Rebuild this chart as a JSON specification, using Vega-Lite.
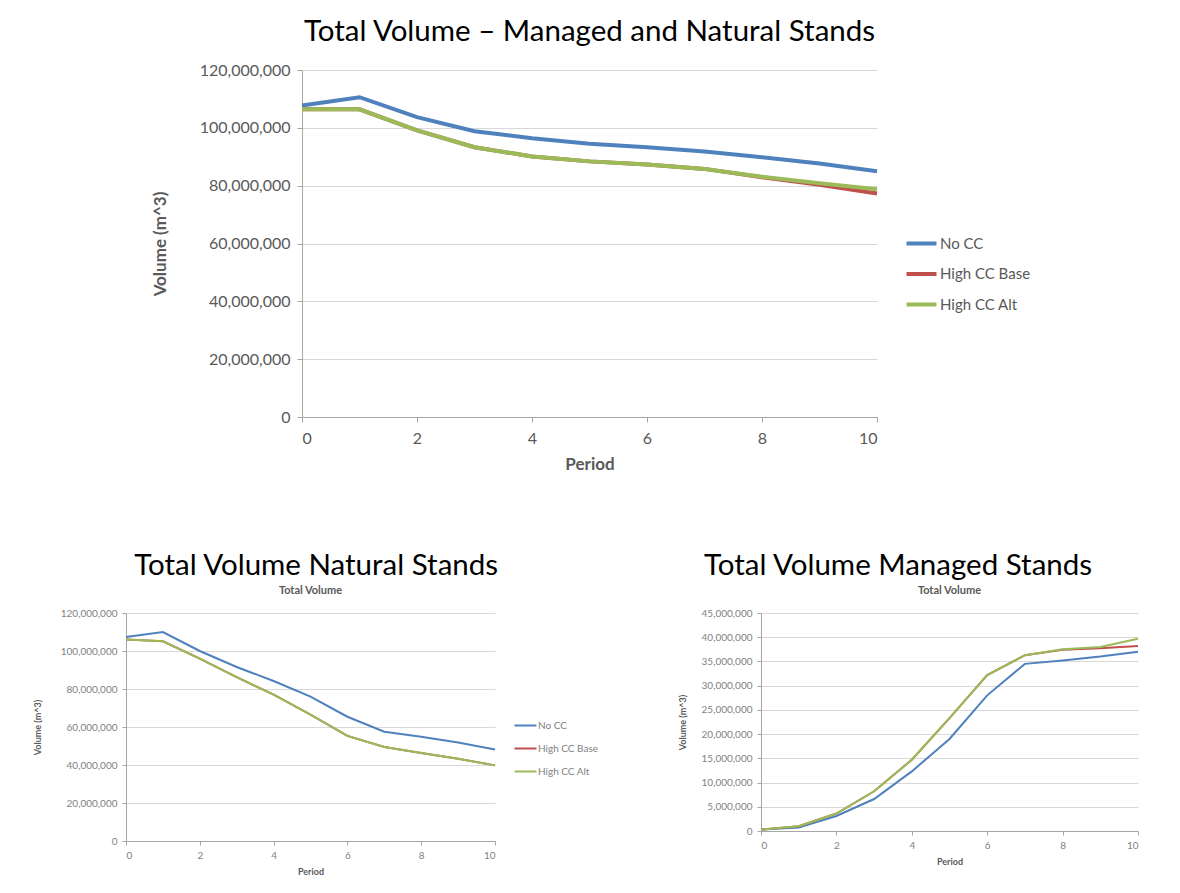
{
  "$schema": "https://vega.github.io/schema/vega-lite/v6.json",
  "background": "white",
  "padding": {"left": 33, "top": 16, "right": 0, "bottom": 0},
  "spacing": 78,
  "config": {
    "font": "Lato",
    "view": {"stroke": null},
    "axis": {"labelColor": "#595959", "titleColor": "#595959", "domainColor": "#a6a6a6", "tickColor": "#a6a6a6", "gridColor": "#d9d9d9", "labelFont": "Lato", "titleFont": "Lato"},
    "title": {"font": "Lato", "fontWeight": "normal", "color": "black"},
    "legend": {"labelFont": "Lato", "labelColor": "#595959"}
  },
  "resolve": {"scale": {"color": "independent"}, "legend": {"color": "independent"}},
  "datasets": {
    "total": [
      {"period": 0, "scenario": "No CC", "volume": 107700000},
      {"period": 1, "scenario": "No CC", "volume": 110600000},
      {"period": 2, "scenario": "No CC", "volume": 103700000},
      {"period": 3, "scenario": "No CC", "volume": 98800000},
      {"period": 4, "scenario": "No CC", "volume": 96400000},
      {"period": 5, "scenario": "No CC", "volume": 94500000},
      {"period": 6, "scenario": "No CC", "volume": 93300000},
      {"period": 7, "scenario": "No CC", "volume": 91800000},
      {"period": 8, "scenario": "No CC", "volume": 89800000},
      {"period": 9, "scenario": "No CC", "volume": 87700000},
      {"period": 10, "scenario": "No CC", "volume": 85000000},
      {"period": 0, "scenario": "High CC Base", "volume": 106400000},
      {"period": 1, "scenario": "High CC Base", "volume": 106400000},
      {"period": 2, "scenario": "High CC Base", "volume": 99100000},
      {"period": 3, "scenario": "High CC Base", "volume": 93300000},
      {"period": 4, "scenario": "High CC Base", "volume": 90100000},
      {"period": 5, "scenario": "High CC Base", "volume": 88400000},
      {"period": 6, "scenario": "High CC Base", "volume": 87300000},
      {"period": 7, "scenario": "High CC Base", "volume": 85800000},
      {"period": 8, "scenario": "High CC Base", "volume": 82900000},
      {"period": 9, "scenario": "High CC Base", "volume": 80300000},
      {"period": 10, "scenario": "High CC Base", "volume": 77300000},
      {"period": 0, "scenario": "High CC Alt", "volume": 106400000},
      {"period": 1, "scenario": "High CC Alt", "volume": 106400000},
      {"period": 2, "scenario": "High CC Alt", "volume": 99100000},
      {"period": 3, "scenario": "High CC Alt", "volume": 93300000},
      {"period": 4, "scenario": "High CC Alt", "volume": 90100000},
      {"period": 5, "scenario": "High CC Alt", "volume": 88400000},
      {"period": 6, "scenario": "High CC Alt", "volume": 87300000},
      {"period": 7, "scenario": "High CC Alt", "volume": 85800000},
      {"period": 8, "scenario": "High CC Alt", "volume": 83100000},
      {"period": 9, "scenario": "High CC Alt", "volume": 80800000},
      {"period": 10, "scenario": "High CC Alt", "volume": 78800000}
    ],
    "natural": [
      {"period": 0, "scenario": "No CC", "volume": 107400000},
      {"period": 1, "scenario": "No CC", "volume": 110000000},
      {"period": 2, "scenario": "No CC", "volume": 100000000},
      {"period": 3, "scenario": "No CC", "volume": 91600000},
      {"period": 4, "scenario": "No CC", "volume": 84200000},
      {"period": 5, "scenario": "No CC", "volume": 76000000},
      {"period": 6, "scenario": "No CC", "volume": 65400000},
      {"period": 7, "scenario": "No CC", "volume": 57500000},
      {"period": 8, "scenario": "No CC", "volume": 54900000},
      {"period": 9, "scenario": "No CC", "volume": 51800000},
      {"period": 10, "scenario": "No CC", "volume": 48200000},
      {"period": 0, "scenario": "High CC Base", "volume": 106100000},
      {"period": 1, "scenario": "High CC Base", "volume": 105100000},
      {"period": 2, "scenario": "High CC Base", "volume": 96000000},
      {"period": 3, "scenario": "High CC Base", "volume": 86300000},
      {"period": 4, "scenario": "High CC Base", "volume": 77000000},
      {"period": 5, "scenario": "High CC Base", "volume": 66500000},
      {"period": 6, "scenario": "High CC Base", "volume": 55300000},
      {"period": 7, "scenario": "High CC Base", "volume": 49500000},
      {"period": 8, "scenario": "High CC Base", "volume": 46300000},
      {"period": 9, "scenario": "High CC Base", "volume": 43300000},
      {"period": 10, "scenario": "High CC Base", "volume": 39800000},
      {"period": 0, "scenario": "High CC Alt", "volume": 106100000},
      {"period": 1, "scenario": "High CC Alt", "volume": 105100000},
      {"period": 2, "scenario": "High CC Alt", "volume": 96000000},
      {"period": 3, "scenario": "High CC Alt", "volume": 86300000},
      {"period": 4, "scenario": "High CC Alt", "volume": 77000000},
      {"period": 5, "scenario": "High CC Alt", "volume": 66500000},
      {"period": 6, "scenario": "High CC Alt", "volume": 55300000},
      {"period": 7, "scenario": "High CC Alt", "volume": 49500000},
      {"period": 8, "scenario": "High CC Alt", "volume": 46300000},
      {"period": 9, "scenario": "High CC Alt", "volume": 43300000},
      {"period": 10, "scenario": "High CC Alt", "volume": 39800000}
    ],
    "managed": [
      {"period": 0, "scenario": "No CC", "volume": 300000},
      {"period": 1, "scenario": "No CC", "volume": 700000},
      {"period": 2, "scenario": "No CC", "volume": 3100000},
      {"period": 3, "scenario": "No CC", "volume": 6600000},
      {"period": 4, "scenario": "No CC", "volume": 12300000},
      {"period": 5, "scenario": "No CC", "volume": 19000000},
      {"period": 6, "scenario": "No CC", "volume": 28000000},
      {"period": 7, "scenario": "No CC", "volume": 34500000},
      {"period": 8, "scenario": "No CC", "volume": 35200000},
      {"period": 9, "scenario": "No CC", "volume": 36000000},
      {"period": 10, "scenario": "No CC", "volume": 37000000},
      {"period": 0, "scenario": "High CC Base", "volume": 300000},
      {"period": 1, "scenario": "High CC Base", "volume": 1000000},
      {"period": 2, "scenario": "High CC Base", "volume": 3600000},
      {"period": 3, "scenario": "High CC Base", "volume": 8200000},
      {"period": 4, "scenario": "High CC Base", "volume": 14700000},
      {"period": 5, "scenario": "High CC Base", "volume": 23300000},
      {"period": 6, "scenario": "High CC Base", "volume": 32200000},
      {"period": 7, "scenario": "High CC Base", "volume": 36300000},
      {"period": 8, "scenario": "High CC Base", "volume": 37400000},
      {"period": 9, "scenario": "High CC Base", "volume": 37700000},
      {"period": 10, "scenario": "High CC Base", "volume": 38200000},
      {"period": 0, "scenario": "High CC Alt", "volume": 300000},
      {"period": 1, "scenario": "High CC Alt", "volume": 1000000},
      {"period": 2, "scenario": "High CC Alt", "volume": 3600000},
      {"period": 3, "scenario": "High CC Alt", "volume": 8200000},
      {"period": 4, "scenario": "High CC Alt", "volume": 14700000},
      {"period": 5, "scenario": "High CC Alt", "volume": 23300000},
      {"period": 6, "scenario": "High CC Alt", "volume": 32200000},
      {"period": 7, "scenario": "High CC Alt", "volume": 36300000},
      {"period": 8, "scenario": "High CC Alt", "volume": 37500000},
      {"period": 9, "scenario": "High CC Alt", "volume": 38000000},
      {"period": 10, "scenario": "High CC Alt", "volume": 39700000}
    ]
  },
  "vconcat": [
    {
      "spacing": 0,
      "align": "none",
      "resolve": {"scale": {"color": "independent"}, "legend": {"color": "independent"}},
      "hconcat": [
        {
          "width": 25, "height": 10,
          "data": {"values": [{"a": 0}]},
          "mark": {"type": "point", "opacity": 0},
          "encoding": {}
        },
        {
          "width": 575, "height": 347,
          "data": {"name": "total"},
          "title": {"text": "Total Volume – Managed and Natural Stands", "fontSize": 29.5, "offset": 15, "frame": "group", "anchor": "middle"},
          "encoding": {
            "x": {"field": "period", "type": "quantitative", "scale": {"domain": [0, 10], "nice": false},
              "axis": {"values": [0, 2, 4, 6, 8, 10], "grid": false, "title": "Period", "labelFontSize": 16, "titleFontSize": 17, "titleFontWeight": "bold", "tickSize": 5, "labelPadding": 8, "titlePadding": 10}},
            "y": {"field": "volume", "type": "quantitative", "scale": {"domain": [0, 120000000], "nice": false},
              "axis": {"values": [0, 20000000, 40000000, 60000000, 80000000, 100000000, 120000000], "format": ",d", "title": "Volume (m^3)", "labelFontSize": 16, "titleFontSize": 17, "titleFontWeight": "bold", "tickSize": 5, "labelPadding": 7, "titlePadding": 30}},
            "color": {"field": "scenario", "type": "nominal",
              "scale": {"domain": ["No CC", "High CC Base", "High CC Alt"], "range": ["#4F81BD", "#C0504D", "#9BBB59"]},
              "legend": {"orient": "none", "legendX": 610, "legendY": 164, "title": null, "padding": 0, "symbolType": "M-2,0H2", "symbolSize": 225, "symbolStrokeWidth": 4, "labelFontSize": 15, "labelOffset": 9, "rowPadding": 12.5}}
          },
          "layer": [
            {"transform": [{"filter": "datum.scenario === 'No CC'"}], "mark": {"type": "line", "strokeWidth": 4}},
            {"transform": [{"filter": "datum.scenario === 'High CC Base'"}], "mark": {"type": "line", "strokeWidth": 4}},
            {"transform": [{"filter": "datum.scenario === 'High CC Alt'"}], "mark": {"type": "line", "strokeWidth": 4}}
          ]
        }
      ]
    },
    {
      "spacing": 79,
      "resolve": {"scale": {"color": "independent"}, "legend": {"color": "independent"}},
      "hconcat": [
        {
          "title": {"text": "Total Volume Natural Stands", "fontSize": 29.5, "anchor": "middle", "dx": 0, "offset": 4},
          "resolve": {"scale": {"color": "independent"}, "legend": {"color": "independent"}},
          "vconcat": [
            {
              "width": 369, "height": 228,
              "data": {"name": "natural"},
              "title": {"text": "Total Volume", "fontSize": 11, "fontWeight": "bold", "color": "#595959", "offset": 12, "frame": "group", "anchor": "middle"},
              "encoding": {
                "x": {"field": "period", "type": "quantitative", "scale": {"domain": [0, 10], "nice": false},
                  "axis": {"values": [0, 2, 4, 6, 8, 10], "grid": false, "title": "Period", "labelFontSize": 10, "titleFontSize": 9, "titleFontWeight": "bold", "tickSize": 4, "labelPadding": 5, "titlePadding": 7, "labelColor": "#7f7f7f"}},
                "y": {"field": "volume", "type": "quantitative", "scale": {"domain": [0, 120000000], "nice": false},
                  "axis": {"values": [0, 20000000, 40000000, 60000000, 80000000, 100000000, 120000000], "format": ",d", "title": "Volume (m^3)", "labelFontSize": 10, "titleFontSize": 9, "titleFontWeight": "bold", "tickSize": 4, "labelPadding": 5, "titlePadding": 18, "labelColor": "#7f7f7f"}},
                "color": {"field": "scenario", "type": "nominal",
                  "scale": {"domain": ["No CC", "High CC Base", "High CC Alt"], "range": ["#4F81BD", "#C0504D", "#9BBB59"]},
                  "legend": {"orient": "none", "legendX": 393, "legendY": 106, "title": null, "padding": 0, "symbolType": "M-2,0H2", "symbolSize": 121, "symbolStrokeWidth": 2, "labelFontSize": 10, "labelOffset": 6, "rowPadding": 11, "labelColor": "#7f7f7f"}}
              },
              "layer": [
                {"transform": [{"filter": "datum.scenario === 'No CC'"}], "mark": {"type": "line", "strokeWidth": 2}},
                {"transform": [{"filter": "datum.scenario === 'High CC Base'"}], "mark": {"type": "line", "strokeWidth": 2}},
                {"transform": [{"filter": "datum.scenario === 'High CC Alt'"}], "mark": {"type": "line", "strokeWidth": 2}}
              ]
            }
          ]
        },
        {
          "title": {"text": "Total Volume Managed Stands", "fontSize": 29.5, "anchor": "middle", "dx": -12, "offset": 4},
          "resolve": {"scale": {"color": "independent"}, "legend": {"color": "independent"}},
          "vconcat": [
            {
              "width": 377, "height": 218,
              "data": {"name": "managed"},
              "title": {"text": "Total Volume", "fontSize": 11, "fontWeight": "bold", "color": "#595959", "offset": 12, "frame": "group", "anchor": "middle"},
              "encoding": {
                "x": {"field": "period", "type": "quantitative", "scale": {"domain": [0, 10], "nice": false},
                  "axis": {"values": [0, 2, 4, 6, 8, 10], "grid": false, "title": "Period", "labelFontSize": 10, "titleFontSize": 9, "titleFontWeight": "bold", "tickSize": 4, "labelPadding": 5, "titlePadding": 7, "labelColor": "#7f7f7f"}},
                "y": {"field": "volume", "type": "quantitative", "scale": {"domain": [0, 45000000], "nice": false},
                  "axis": {"values": [0, 5000000, 10000000, 15000000, 20000000, 25000000, 30000000, 35000000, 40000000, 45000000], "format": ",d", "title": "Volume (m^3)", "labelFontSize": 10, "titleFontSize": 9, "titleFontWeight": "bold", "tickSize": 4, "labelPadding": 5, "titlePadding": 14, "labelColor": "#7f7f7f"}},
                "color": {"field": "scenario", "type": "nominal",
                  "scale": {"domain": ["No CC", "High CC Base", "High CC Alt"], "range": ["#4F81BD", "#C0504D", "#9BBB59"]},
                  "legend": null}
              },
              "layer": [
                {"transform": [{"filter": "datum.scenario === 'No CC'"}], "mark": {"type": "line", "strokeWidth": 2}},
                {"transform": [{"filter": "datum.scenario === 'High CC Base'"}], "mark": {"type": "line", "strokeWidth": 2}},
                {"transform": [{"filter": "datum.scenario === 'High CC Alt'"}], "mark": {"type": "line", "strokeWidth": 2}}
              ]
            }
          ]
        }
      ]
    }
  ]
}
